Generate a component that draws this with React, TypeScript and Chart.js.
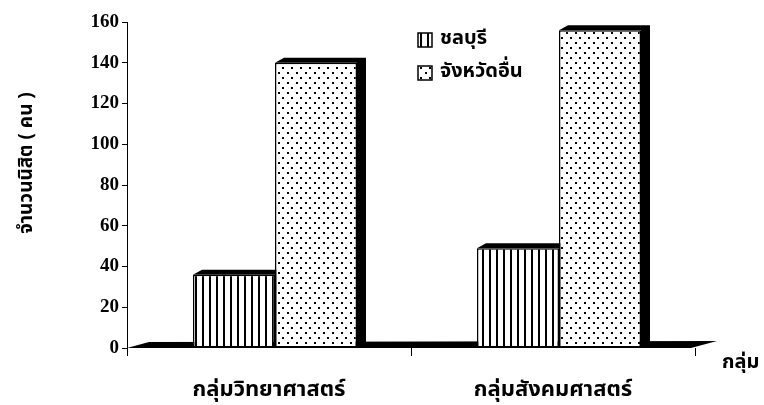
import React, { useEffect, useRef } from "react";
import { Chart, registerables } from "chart.js";

Chart.register(...registerables);

const categories = ["กลุ่มวิทยาศาสตร์", "กลุ่มสังคมศาสตร์"];
const seriesNames = ["ชลบุรี", "จังหวัดอื่น"];
const chonburi = [36, 49];
const otherProvinces = [140, 156];
const yMin = 0;
const yMax = 160;
const yStep = 20;
const yTitle = "จำนวนนิสิต ( คน )";
const xTitle = "กลุ่ม";

const THAI_FONT = '"Noto Sans Thai", "Noto Sans", Tahoma, sans-serif';

function makeStripes(): CanvasPattern | string {
  const c = document.createElement("canvas");
  c.width = 7;
  c.height = 7;
  const g = c.getContext("2d");
  if (!g) return "#fff";
  g.fillStyle = "#fff";
  g.fillRect(0, 0, 7, 7);
  g.fillStyle = "#000";
  g.fillRect(0, 0, 2, 7);
  return g.createPattern(c, "repeat") || "#fff";
}

function makeDots(): CanvasPattern | string {
  const c = document.createElement("canvas");
  c.width = 9;
  c.height = 10;
  const g = c.getContext("2d");
  if (!g) return "#fff";
  g.fillStyle = "#fff";
  g.fillRect(0, 0, 9, 10);
  g.fillStyle = "#000";
  g.fillRect(2, 2, 2, 2);
  g.fillRect(6, 7, 2, 2);
  return g.createPattern(c, "repeat") || "#fff";
}

const DX = 9;
const DY = 5;
const SHIFT = 6;

const depthPlugin = {
  id: "depth3d",
  beforeDatasetsDraw(chart: any) {
    const ctx = chart.ctx;
    const a = chart.chartArea;
    // floor slab
    ctx.save();
    ctx.fillStyle = "#000";
    ctx.beginPath();
    ctx.moveTo(a.left, a.bottom);
    ctx.lineTo(a.left + 22, a.bottom - 6);
    ctx.lineTo(a.right + 22, a.bottom - 7);
    ctx.lineTo(a.right - 4, a.bottom);
    ctx.closePath();
    ctx.fill();
    ctx.restore();

    ctx.save();
    ctx.translate(SHIFT, 0);
    ctx.fillStyle = "#000";
    chart.data.datasets.forEach((_: any, di: number) => {
      const meta = chart.getDatasetMeta(di);
      meta.data.forEach((el: any) => {
        const p = el.getProps(["x", "y", "base", "width"], true);
        const l = p.x - p.width / 2;
        const r = p.x + p.width / 2;
        const t = p.y;
        const b = p.base;
        ctx.beginPath();
        ctx.moveTo(l, t);
        ctx.lineTo(l + DX, t - DY);
        ctx.lineTo(r + DX, t - DY);
        ctx.lineTo(r + DX, b - DY);
        ctx.lineTo(r, b);
        ctx.lineTo(r, t);
        ctx.closePath();
        ctx.fill();
      });
    });
  },
  afterDatasetsDraw(chart: any) {
    chart.ctx.restore();
  },
  afterDraw(chart: any) {
    const ctx = chart.ctx;
    const a = chart.chartArea;
    ctx.save();
    ctx.fillStyle = "#000";
    // y title
    ctx.translate(28, 163);
    ctx.rotate(-Math.PI / 2);
    ctx.font = `bold 19px ${THAI_FONT}`;
    ctx.textAlign = "center";
    ctx.textBaseline = "middle";
    ctx.fillText(yTitle, 0, 0);
    ctx.restore();

    ctx.save();
    ctx.fillStyle = "#000";
    ctx.font = `bold 20px ${THAI_FONT}`;
    ctx.textAlign = "left";
    ctx.textBaseline = "middle";
    ctx.fillText(xTitle, a.right + 27, a.bottom + 16);

    // legend
    const patterns = chart.data.datasets.map((d: any) => d.backgroundColor);
    const lx = a.left + 291;
    const ly = [a.top + 18, a.top + 51];
    seriesNames.forEach((name, i) => {
      ctx.fillStyle = patterns[i];
      ctx.fillRect(lx, ly[i] - 7, 14, 14);
      ctx.strokeStyle = "#000";
      ctx.lineWidth = 1.5;
      ctx.strokeRect(lx, ly[i] - 7, 14, 14);
      ctx.fillStyle = "#000";
      ctx.fillText(name, lx + 22, ly[i]);
    });
    ctx.restore();
  },
};

export default function App() {
  const ref = useRef<HTMLCanvasElement>(null);
  useEffect(() => {
    document.body.style.margin = "0";
    const canvas = ref.current;
    if (!canvas) return;
    const stripes = makeStripes();
    const dots = makeDots();
    const chart = new Chart(canvas, {
      type: "bar",
      data: {
        labels: categories,
        datasets: [
          {
            label: seriesNames[0],
            data: chonburi,
            backgroundColor: stripes as any,
            borderColor: "#000",
            borderWidth: 1.5,
            borderSkipped: false,
            barPercentage: 1,
            categoryPercentage: 0.5775,
          },
          {
            label: seriesNames[1],
            data: otherProvinces,
            backgroundColor: dots as any,
            borderColor: "#000",
            borderWidth: 1.5,
            borderSkipped: false,
            barPercentage: 1,
            categoryPercentage: 0.5775,
          },
        ],
      },
      options: {
        responsive: false,
        animation: false,
        layout: { padding: { top: 22, right: 69, left: 0, bottom: 0 } },
        plugins: { legend: { display: false }, tooltip: { enabled: false } },
        scales: {
          x: {
            offset: true,
            grid: {
              offset: true,
              drawOnChartArea: false,
              drawTicks: true,
              tickLength: 8,
              color: "#000",
              lineWidth: 1,
            },
            border: { display: false },
            ticks: {
              color: "#000",
              font: { family: THAI_FONT, size: 22, weight: "bold" },
              padding: 22,
            },
            afterFit: (s: any) => {
              s.height = 57;
            },
          },
          y: {
            min: yMin,
            max: yMax,
            ticks: {
              stepSize: yStep,
              color: "#000",
              font: { family: '"Liberation Serif", serif', size: 19, weight: "bold" },
              padding: 3,
            },
            grid: {
              drawOnChartArea: false,
              drawTicks: true,
              tickLength: 5,
              color: "#000",
              lineWidth: 1,
            },
            border: { display: true, color: "#000", width: 1 },
            afterFit: (s: any) => {
              s.width = 127;
            },
          },
        },
      },
      plugins: [depthPlugin],
    });
    return () => chart.destroy();
  }, []);
  return (
    <div style={{ width: 764, height: 405 }}>
      <canvas ref={ref} width={764} height={405} />
    </div>
  );
}
